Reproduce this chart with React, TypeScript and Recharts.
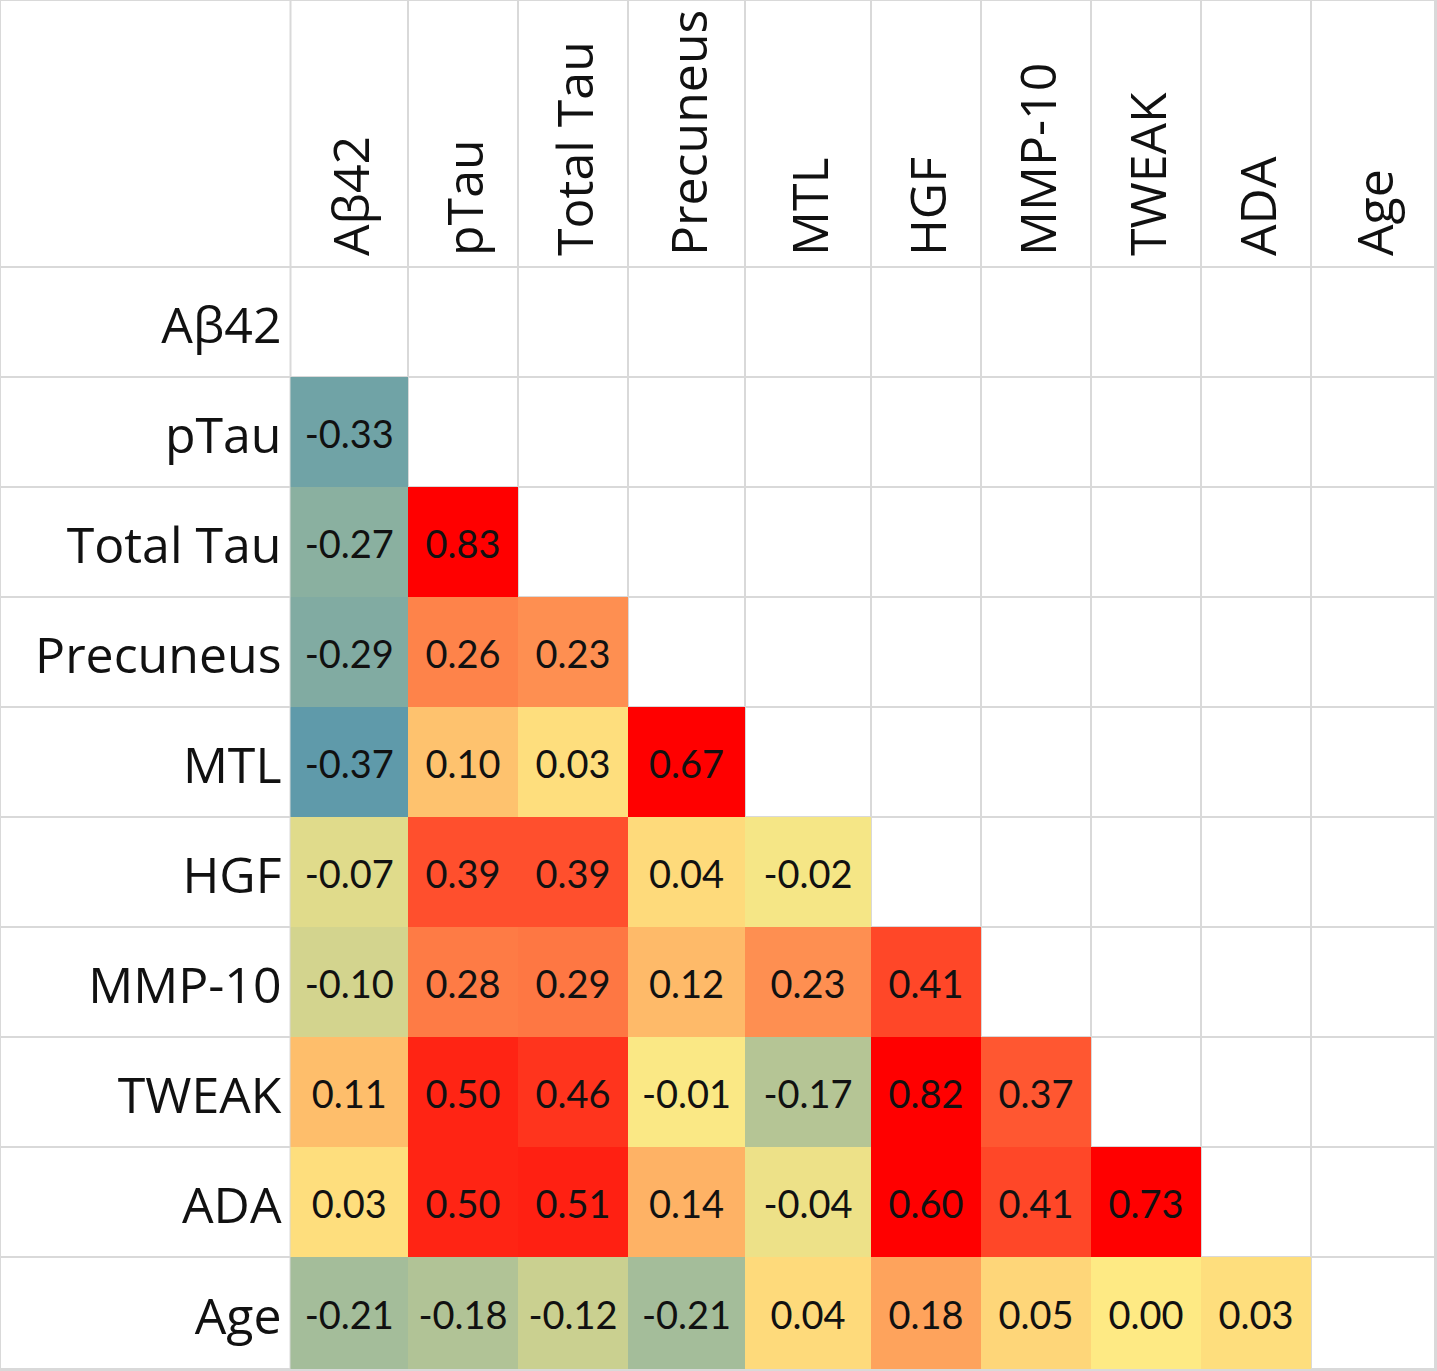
import { ScatterChart, Scatter, XAxis, YAxis, CartesianGrid, ReferenceArea } from 'recharts';

// variables, same order on both axes
const variables = ['Aβ42', 'pTau', 'Total Tau', 'Precuneus', 'MTL', 'HGF', 'MMP-10', 'TWEAK', 'ADA', 'Age'];

// lower triangle, one list per row (row i has i values)
const rowAb42: number[] = [];
const rowPTau = [-0.33];
const rowTotalTau = [-0.27, 0.83];
const rowPrecuneus = [-0.29, 0.26, 0.23];
const rowMTL = [-0.37, 0.1, 0.03, 0.67];
const rowHGF = [-0.07, 0.39, 0.39, 0.04, -0.02];
const rowMMP10 = [-0.1, 0.28, 0.29, 0.12, 0.23, 0.41];
const rowTWEAK = [0.11, 0.5, 0.46, -0.01, -0.17, 0.82, 0.37];
const rowADA = [0.03, 0.5, 0.51, 0.14, -0.04, 0.6, 0.41, 0.73];
const rowAge = [-0.21, -0.18, -0.12, -0.21, 0.04, 0.18, 0.05, 0.0, 0.03];

const matrix = [rowAb42, rowPTau, rowTotalTau, rowPrecuneus, rowMTL, rowHGF, rowMMP10, rowTWEAK, rowADA, rowAge];

// sheet layout: label column + one column per variable, header row + one row per variable
const CHART_W = 1437;
const CHART_H = 1371;
const colWidths = [290.5, 117.5, 110, 110, 117, 126, 110, 110, 110, 110, 124];
const rowHeights = [267, 110, 110, 110, 110, 110, 110, 110, 110, 110, 112];

const cumulate = (sizes: number[]) => sizes.reduce<number[]>((acc, s) => [...acc, acc[acc.length - 1] + s], [0]);
const xEdges = cumulate(colWidths);
const yEdges = cumulate(rowHeights);

const LOW = -0.37;
const HIGH = 0.59;
const BLUE = [95, 154, 170];
const YELLOW = [254, 234, 132];
const RED = [255, 0, 0];

function cellColor(v: number): string {
  const mix = (a: number[], b: number[], t: number) =>
    a.map((c, i) => Math.round(c + (b[i] - c) * Math.min(1, Math.max(0, t))));
  const rgb = v < 0 ? mix(YELLOW, BLUE, v / LOW) : mix(YELLOW, RED, v / HIGH);
  return `rgb(${rgb.join(',')})`;
}

const cells = matrix.flatMap((row, r) =>
  row.map((v, c) => ({
    x1: xEdges[c + 1],
    x2: xEdges[c + 2],
    y1: yEdges[r + 1],
    y2: yEdges[r + 2],
    x: (xEdges[c + 1] + xEdges[c + 2]) / 2,
    y: (yEdges[r + 1] + yEdges[r + 2]) / 2,
    v,
  }))
);

const rowLabels = variables.map((name, r) => ({ x: xEdges[1], y: (yEdges[r + 1] + yEdges[r + 2]) / 2, name }));
const colLabels = variables.map((name, c) => ({ x: (xEdges[c + 1] + xEdges[c + 2]) / 2, y: yEdges[1], name }));

const VALUE_FONT = 'Lato, "Open Sans", sans-serif';
const LABEL_FONT = '"Open Sans", Lato, sans-serif';

function ValueText(props: any) {
  const { cx, cy, payload } = props;
  return (
    <text x={cx} y={cy} dy="0.42em" textAnchor="middle" fontFamily={VALUE_FONT} fontSize={38} fill="#111">
      {payload.v.toFixed(2)}
    </text>
  );
}

function RowLabel(props: any) {
  const { cx, cy, payload } = props;
  return (
    <text x={cx - 9} y={cy} dy="0.42em" textAnchor="end" fontFamily={LABEL_FONT} fontSize={50} fill="#111">
      {payload.name}
    </text>
  );
}

function ColLabel(props: any) {
  const { cx, cy, payload } = props;
  const x = cx + 20;
  const y = cy - 11;
  return (
    <text x={x} y={y} transform={`rotate(-90 ${x} ${y})`} textAnchor="start" fontFamily={LABEL_FONT} fontSize={50} fill="#111">
      {payload.name}
    </text>
  );
}

export default function App() {
  return (
    <div style={{ width: CHART_W, height: CHART_H, background: '#fff' }}>
      <style>{'body { margin: 0; }'}</style>
      <ScatterChart width={CHART_W} height={CHART_H} margin={{ top: 0, right: 0, bottom: 0, left: 0 }}>
        <CartesianGrid stroke="#d9d9d9" strokeWidth={2} />
        <XAxis
          type="number"
          dataKey="x"
          domain={[0, CHART_W]}
          ticks={xEdges.slice(1)}
          interval={0}
          allowDataOverflow
          hide
        />
        <YAxis
          type="number"
          dataKey="y"
          domain={[0, CHART_H]}
          ticks={yEdges.slice(1)}
          interval={0}
          reversed
          allowDataOverflow
          hide
        />
        {cells.map((c, i) => (
          <ReferenceArea
            key={i}
            x1={c.x1}
            x2={c.x2}
            y1={c.y1}
            y2={c.y2}
            fill={cellColor(c.v)}
            fillOpacity={1}
            stroke="none"
            ifOverflow="visible"
          />
        ))}
        <Scatter data={cells} shape={ValueText} isAnimationActive={false} />
        <Scatter data={rowLabels} shape={RowLabel} isAnimationActive={false} />
        <Scatter data={colLabels} shape={ColLabel} isAnimationActive={false} />
      </ScatterChart>
    </div>
  );
}
